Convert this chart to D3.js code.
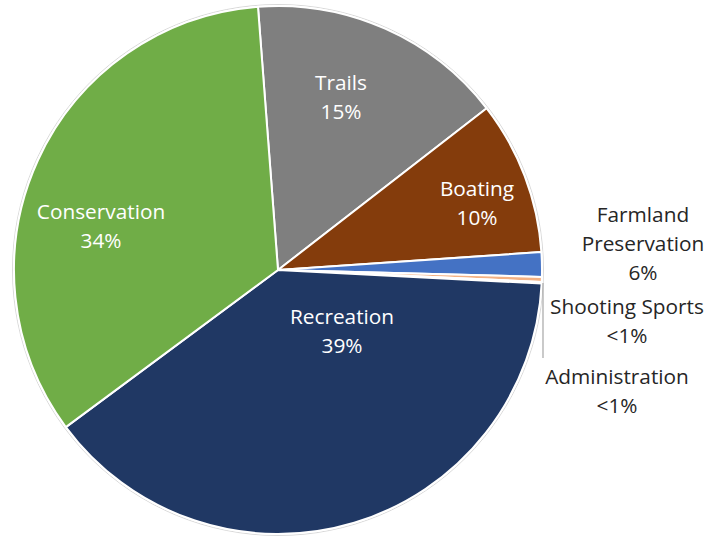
<!DOCTYPE html>
<html>
<head>
<meta charset="utf-8">
<script src="https://cdn.jsdelivr.net/npm/d3@7"></script>
<style>
  body { margin: 0; background: #fff; }
  text { font-family: "Open Sans", sans-serif; }
</style>
</head>
<body>
<svg id="chart" width="722" height="536"></svg>
<script>
// slice order, clockwise from just left of 12 o'clock
var categories = ['Trails', 'Boating', 'Farmland Preservation', 'Shooting Sports', 'Administration', 'Recreation', 'Conservation'];
var shares = [15.7, 9.4, 1.5, 0.3, 0.1, 39.0, 33.9];
var labelLines = [
    ['Trails', '15%'],
    ['Boating', '10%'],
    ['Farmland', 'Preservation', '6%'],
    ['Shooting Sports', '<1%'],
    ['Administration', '<1%'],
    ['Recreation', '39%'],
    ['Conservation', '34%']
];
var colors = ['#7f7f7f', '#843c0c', '#4472c4', '#f4b183', '#a5a5a5', '#203864', '#70ad47'];

// label anchor points (text centre of first line), Excel best-fit style
var labelAt = [[341, 82], [477, 188], [643, 214], [627, 306], [617, 376], [342, 316], [101, 211]];
var labelFill = ['#fff', '#fff', '#262626', '#262626', '#262626', '#fff', '#fff'];

var cx = 278, cy = 270, r = 264;
var svg = d3.select('#chart');
var g = svg.append('g').attr('transform', 'translate(' + cx + ',' + cy + ')');

var start = -4.35 * Math.PI / 180;
var pie = d3.pie().sort(null).startAngle(start).endAngle(start + 2 * Math.PI);
var arc = d3.arc().innerRadius(0).outerRadius(r);

g.append('circle')
    .attr('r', r + 1.5)
    .attr('fill', 'none')
    .attr('stroke', '#d9d9d9')
    .attr('stroke-width', 1);

g.selectAll('path.slice')
    .data(pie(shares))
    .enter().append('path')
    .attr('class', 'slice')
    .attr('d', arc)
    .attr('fill', (d, i) => colors[i])
    .attr('stroke', '#fff')
    .attr('stroke-width', 2)
    .attr('stroke-linejoin', 'round');

// leader line for the Administration label
svg.append('line')
    .attr('x1', 543).attr('x2', 543)
    .attr('y1', 283).attr('y2', 358)
    .attr('stroke', '#a6a6a6')
    .attr('stroke-width', 1.2);

var lineH = 29;
categories.forEach(function(c, i) {
    var t = svg.append('text')
        .attr('x', labelAt[i][0])
        .attr('y', labelAt[i][1])
        .attr('text-anchor', 'middle')
        .attr('dominant-baseline', 'central')
        .attr('font-size', 20.8)
        .attr('fill', labelFill[i]);
    labelLines[i].forEach(function(s, k) {
        t.append('tspan')
            .attr('x', labelAt[i][0])
            .attr('dy', k === 0 ? 0 : lineH)
            .text(s);
    });
});
</script>
</body>
</html>
